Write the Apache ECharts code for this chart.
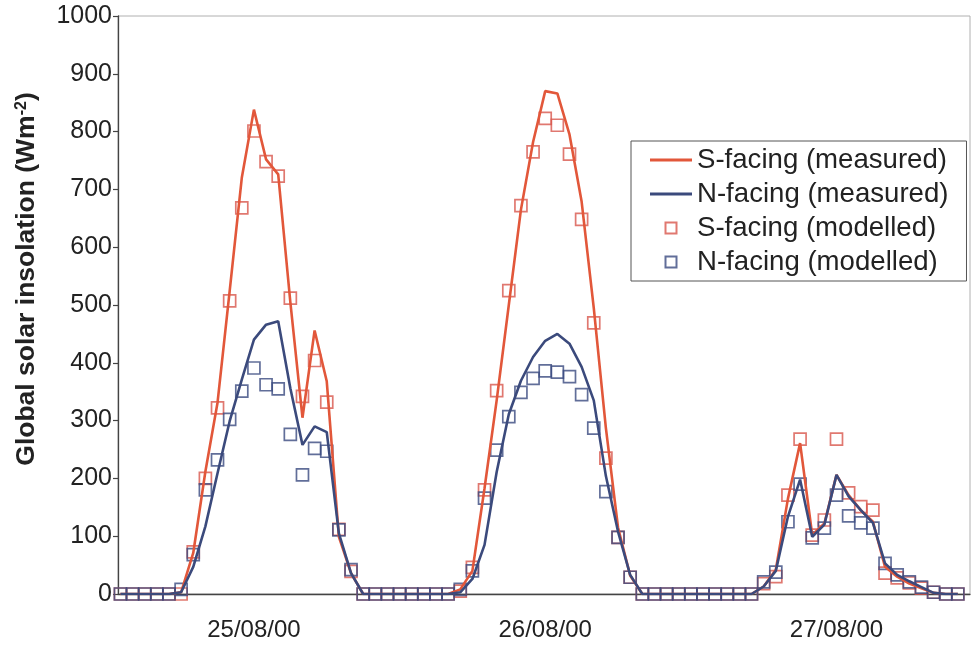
<!DOCTYPE html>
<html>
<head>
<meta charset="utf-8">
<script src="https://cdn.jsdelivr.net/npm/echarts@6/dist/echarts.min.js"></script>
<style>
  html, body { margin: 0; padding: 0; background: #fff; }
  #chart { width: 972px; height: 651px; }
</style>
</head>
<body>
<div id="chart"></div>
<script>
// Hourly data, first point = 25/08/00 01:00 (hour 1), last = hour 70
const firstHour = 1;
const dayLabels = ['25/08/00', '26/08/00', '27/08/00'];
const labelHours = [12, 36, 60];
const yTicks = [0, 100, 200, 300, 400, 500, 600, 700, 800, 900, 1000];
const seriesNames = ['S-facing (measured)', 'N-facing (measured)', 'S-facing (modelled)', 'N-facing (modelled)'];

const sMeasured = [
  0, 0, 0, 0, 0,
  3, 71, 212, 331, 524, 720, 838, 752, 726, 505, 305, 456, 368, 99, 36,
  0, 0, 0, 0, 0, 0, 0, 0,
  8, 40, 183, 335, 500, 665, 782, 870, 866, 795, 679, 495, 287, 115, 32,
  0, 0, 0, 0, 0, 0, 0, 0, 0, 0,
  13, 42, 165, 261, 102, 122, 206, 171, 145, 125, 47, 30, 18, 10, 2,
  0, 0
];
const nMeasured = [
  0, 0, 0, 0, 0,
  3, 47, 117, 209, 299, 371, 440, 466, 472, 356, 258, 290, 280, 105, 36,
  0, 0, 0, 0, 0, 0, 0, 0,
  3, 26, 85, 211, 311, 369, 410, 438, 450, 433, 393, 335, 204, 108, 33,
  0, 0, 0, 0, 0, 0, 0, 0, 0, 0,
  13, 40, 134, 198, 99, 120, 206, 169, 145, 123, 53, 33, 22, 12, 2,
  0, 0
];
const sModelled = [
  0, 0, 0, 0, 0,
  0, 73, 200, 322, 507, 668, 801, 748, 723, 512, 342, 404, 332, 112, 39,
  0, 0, 0, 0, 0, 0, 0, 0,
  5, 46, 180, 352, 525, 672, 765, 823, 811, 761, 648, 469, 235, 98, 29,
  0, 0, 0, 0, 0, 0, 0, 0, 0, 0,
  18, 30, 171, 268, 102, 128, 268, 175, 151, 145, 36, 28, 19, 10, 3,
  0, 0
];
const nModelled = [
  0, 0, 0, 0, 0,
  8, 68, 180, 232, 302, 351, 391, 362, 355, 276, 206, 252, 247, 111, 42,
  0, 0, 0, 0, 0, 0, 0, 0,
  8, 40, 166, 249, 307, 349, 373, 386, 384, 376, 345, 287, 177, 98, 29,
  0, 0, 0, 0, 0, 0, 0, 0, 0, 0,
  21, 38, 125, 190, 97, 114, 171, 135, 123, 114, 53, 33, 21, 12, 3,
  0, 0
];

const toPairs = arr => arr.map((v, i) => [firstHour + i, v]);

const RED_LINE = '#e2573a';
const BLUE_LINE = '#3b4a7c';
const RED_SQ = '#d8564c';
const BLUE_SQ = '#3a4a80';
const FONT = 'Liberation Sans, Arial, sans-serif';
const LINE_ICON = 'path://M0 0H42V3H0Z';
const SQUARE_ICON = 'path://M0 0H10V10H0Z';

const chart = echarts.init(document.getElementById('chart'), null, { renderer: 'canvas' });
chart.setOption({
  animation: false,
  backgroundColor: '#fff',
  grid: {
    left: 118, right: 2, top: 16, bottom: 57,
    show: true, borderColor: '#b0b0b0', borderWidth: 1, backgroundColor: 'transparent'
  },
  xAxis: {
    type: 'value',
    min: 0.8,
    max: 71,
    axisLine: { show: true, onZero: false, lineStyle: { color: '#444', width: 1.3 } },
    axisTick: { show: false },
    splitLine: { show: false },
    axisLabel: {
      customValues: labelHours,
      formatter: v => dayLabels[labelHours.indexOf(v)] || '',
      fontSize: 24, fontFamily: FONT, color: '#222', margin: 24
    }
  },
  yAxis: {
    type: 'value',
    min: yTicks[0],
    max: yTicks[yTicks.length - 1],
    interval: 100,
    axisLine: { show: true, lineStyle: { color: '#444', width: 1.3 } },
    axisTick: { show: true, inside: false, length: 5, lineStyle: { color: '#444', width: 1.2 } },
    splitLine: { show: false },
    axisLabel: { fontSize: 25, fontFamily: FONT, color: '#222', margin: 6, formatter: v => String(v) }
  },
  legend: {
    data: [
      { name: seriesNames[0], icon: LINE_ICON },
      { name: seriesNames[1], icon: LINE_ICON },
      { name: seriesNames[2], icon: SQUARE_ICON },
      { name: seriesNames[3], icon: SQUARE_ICON }
    ],
    orient: 'vertical',
    left: 631, top: 141,
    itemWidth: 42, itemHeight: 11, itemGap: 6,
    padding: [5, 18, 5, 19],
    borderColor: '#555', borderWidth: 1, backgroundColor: '#fff',
    textStyle: { fontSize: 27.6, fontFamily: FONT, color: '#222' }
  },
  graphic: [{
    type: 'text',
    x: 27, y: 279,
    rotation: Math.PI / 2,
    style: {
      text: 'Global solar insolation (Wm{sup|-2})',
      fontSize: 26.5, fontWeight: 'bold', fontFamily: FONT, fill: '#222',
      align: 'center', verticalAlign: 'middle',
      rich: { sup: { fontSize: 16, fontWeight: 'bold', fontFamily: FONT, fill: '#222', verticalAlign: 'top' } }
    }
  }],
  series: [
    {
      name: seriesNames[0], type: 'line', data: toPairs(sMeasured),
      symbol: 'none', lineStyle: { color: RED_LINE, width: 2.6 }, itemStyle: { color: RED_LINE }
    },
    {
      name: seriesNames[1], type: 'line', data: toPairs(nMeasured),
      symbol: 'none', lineStyle: { color: BLUE_LINE, width: 2.6 }, itemStyle: { color: BLUE_LINE }
    },
    {
      name: seriesNames[2], type: 'scatter', data: toPairs(sModelled),
      symbol: 'rect', symbolSize: 12,
      itemStyle: { color: 'rgba(255,255,255,0)', borderColor: RED_SQ, borderWidth: 1.7 }
    },
    {
      name: seriesNames[3], type: 'scatter', data: toPairs(nModelled),
      symbol: 'rect', symbolSize: 12,
      itemStyle: { color: 'rgba(255,255,255,0)', borderColor: BLUE_SQ, borderWidth: 1.7 }
    }
  ]
});
</script>
</body>
</html>
